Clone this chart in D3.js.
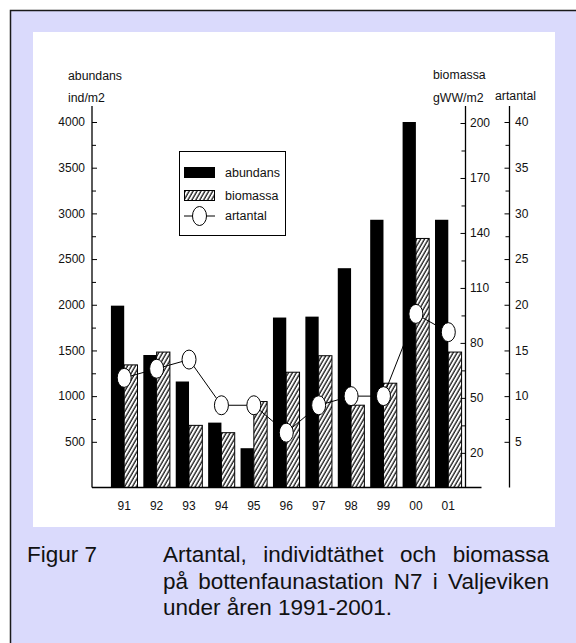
<!DOCTYPE html>
<html><head><meta charset="utf-8">
<script src="https://cdn.jsdelivr.net/npm/d3@7"></script>
<style>
body{margin:0;background:#fff}
svg{display:block}
text{font-family:"Liberation Sans",Arial,Helvetica,sans-serif;fill:#111}
</style>
</head><body>
<svg id="c" width="576" height="643"></svg>
<script>
// ---- data ----
const years = ["91","92","93","94","95","96","97","98","99","00","01"];
const abundans = [1990,1450,1160,710,430,1860,1870,2400,2930,4000,2930];
const biomassa = [68,75,35,31,48,64,73,46,58,137,75];
const artantal = [12,13,14,9,9,6,9,10,10,19,17];
const abTicks = [500,1000,1500,2000,2500,3000,3500,4000];
const abMinor = [750,1250,1750,2250,2750,3250,3750];
const bioTicks = [20,50,80,110,140,170,200];
const bioMinor = [35,65,95,125,155,185];
const artTicks = [5,10,15,20,25,30,35,40];
const artMinor = [7.5,12.5,17.5,22.5,27.5,32.5,37.5];
const legendLabels = ["abundans","biomassa","artantal"];
const captionLabel = "Figur 7";
const captionLines = ["Artantal, individtäthet och biomassa","på bottenfaunastation N7 i Valjeviken","under åren 1991-2001."];

const svg = d3.select("#c");
// frame + panels
svg.append("rect").attr("x",10.5).attr("y",10.5).attr("width",700).attr("height",700)
  .attr("fill","#dadafc").attr("stroke","#1a1a1a").attr("stroke-width",1.5);
svg.append("rect").attr("x",33).attr("y",32).attr("width",522).attr("height",495).attr("fill","#fff");

// hatch pattern
const defs = svg.append("defs");
const pat = defs.append("pattern").attr("id","hatch").attr("patternUnits","userSpaceOnUse")
  .attr("width",3.4).attr("height",10).attr("patternTransform","rotate(30)");
pat.append("rect").attr("width",3.4).attr("height",10).attr("fill","#fff");
pat.append("line").attr("x1",1).attr("x2",1).attr("y1",0).attr("y2",10).attr("stroke","#000").attr("stroke-width",1.2);

// scales
const baseY = 487.5, axisTop = 106;
const x = d3.scaleBand().domain(years).range([108,464.5]).paddingInner(0.18).paddingOuter(0.09);
const bw = x.bandwidth();
const yAb = d3.scaleLinear().domain([0,4000]).range([baseY,122]);
const yBio = d3.scaleLinear().domain([0,200]).range([489.5,123]);
const yArt = d3.scaleLinear().domain([0,40]).range([baseY,122]);
const leftX = 92, bioX = 465.5, artX = 509.5;

// bars
const g = svg.append("g");
g.selectAll("rect.ab").data(years).join("rect").attr("class","ab")
  .attr("x",d=>x(d)).attr("width",bw/2)
  .attr("y",(d,i)=>yAb(abundans[i])).attr("height",(d,i)=>baseY-yAb(abundans[i]))
  .attr("fill","#000");
g.selectAll("rect.bio").data(years).join("rect").attr("class","bio")
  .attr("x",d=>x(d)+bw/2).attr("width",bw/2)
  .attr("y",(d,i)=>yBio(biomassa[i])).attr("height",(d,i)=>baseY-yBio(biomassa[i]))
  .attr("fill","url(#hatch)").attr("stroke","#000").attr("stroke-width",1);

// line + circles
const pts = years.map((d,i)=>[x(d)+bw/2, yArt(artantal[i])]);
g.append("path").attr("d",d3.line()(pts)).attr("fill","none").attr("stroke","#000").attr("stroke-width",1);
g.selectAll("ellipse.art").data(pts).join("ellipse").attr("class","art")
  .attr("cx",d=>d[0]).attr("cy",d=>d[1]).attr("rx",7).attr("ry",9.5)
  .attr("fill","#fff").attr("stroke","#000").attr("stroke-width",1);

// axes
function styleAxis(sel){
  sel.select(".domain").remove();
  sel.selectAll("line").attr("stroke","#000").attr("stroke-width",1);
  sel.selectAll("text").attr("font-size",12).attr("fill","#111").attr("font-family","Liberation Sans, Arial, sans-serif");
}
const fmt = d3.format("d");
const axL = svg.append("g").attr("transform",`translate(${leftX},0)`)
  .call(d3.axisLeft(yAb).tickValues(abTicks).tickFormat(fmt).tickSizeInner(-5).tickSizeOuter(0).tickPadding(7));
styleAxis(axL);
const axLm = svg.append("g").attr("transform",`translate(${leftX},0)`)
  .call(d3.axisLeft(yAb).tickValues(abMinor).tickFormat("").tickSizeInner(-4).tickSizeOuter(0));
styleAxis(axLm);
const axB = svg.append("g").attr("transform",`translate(${bioX},0)`)
  .call(d3.axisRight(yBio).tickValues(bioTicks).tickFormat(fmt).tickSizeInner(-5).tickSizeOuter(0).tickPadding(4.5));
styleAxis(axB);
const axBm = svg.append("g").attr("transform",`translate(${bioX},0)`)
  .call(d3.axisRight(yBio).tickValues(bioMinor).tickFormat("").tickSizeInner(-4).tickSizeOuter(0));
styleAxis(axBm);
const axA = svg.append("g").attr("transform",`translate(${artX},0)`)
  .call(d3.axisRight(yArt).tickValues(artTicks).tickFormat(fmt).tickSizeInner(-5).tickSizeOuter(0).tickPadding(5.5));
styleAxis(axA);
const axAm = svg.append("g").attr("transform",`translate(${artX},0)`)
  .call(d3.axisRight(yArt).tickValues(artMinor).tickFormat("").tickSizeInner(-4).tickSizeOuter(0));
styleAxis(axAm);
const axX = svg.append("g").attr("transform",`translate(0,${baseY})`)
  .call(d3.axisBottom(x).tickSize(0).tickPadding(14));
styleAxis(axX);

// axis lines
[[leftX,axisTop,leftX,baseY],[bioX,axisTop,bioX,baseY],[artX,axisTop,artX,baseY],[leftX,baseY,481.5,baseY]]
  .forEach(l=>svg.append("line").attr("x1",l[0]).attr("y1",l[1]).attr("x2",l[2]).attr("y2",l[3])
    .attr("stroke","#000").attr("stroke-width",1.3));

// axis titles
const titles = [["abundans",68,80],["ind/m2",68,102],["biomassa",433,79],["gWW/m2",433,102],["artantal",495,100]];
titles.forEach(t=>svg.append("text").attr("x",t[1]).attr("y",t[2]).attr("font-size",12.3).text(t[0]));

// legend
const lg = svg.append("g");
lg.append("rect").attr("x",179.5).attr("y",151.5).attr("width",106).attr("height",84)
  .attr("fill","#fff").attr("stroke","#000").attr("stroke-width",1);
lg.append("rect").attr("x",184).attr("y",167).attr("width",31).attr("height",11).attr("fill","#000");
lg.append("rect").attr("x",184.5).attr("y",190.5).attr("width",30).attr("height",10)
  .attr("fill","url(#hatch)").attr("stroke","#000").attr("stroke-width",1);
lg.append("line").attr("x1",184).attr("x2",215).attr("y1",216).attr("y2",216).attr("stroke","#000").attr("stroke-width",1);
lg.append("ellipse").attr("cx",199.5).attr("cy",216).attr("rx",7).attr("ry",9.5)
  .attr("fill","#fff").attr("stroke","#000").attr("stroke-width",1);
legendLabels.forEach((t,i)=>lg.append("text").attr("x",225).attr("y",[177,200,220][i])
  .attr("font-size",12.5).text(t));

// caption
const capFont = 22.5;
svg.append("text").attr("x",27).attr("y",562).attr("font-size",capFont).text(captionLabel);
const capX0 = 163, capX1 = 549, capY = [562,588.5,615];
captionLines.forEach((line,li)=>{
  const words = line.split(" ");
  const nodes = words.map(w=>svg.append("text").attr("y",capY[li]).attr("font-size",capFont).text(w));
  const widths = nodes.map(n=>n.node().getComputedTextLength());
  const total = d3.sum(widths);
  let gap;
  if (li < captionLines.length-1) gap = (capX1-capX0-total)/(words.length-1);
  else gap = capFont*0.278;
  let cx = capX0;
  nodes.forEach((n,i)=>{ n.attr("x",cx); cx += widths[i]+gap; });
});
</script>
</body></html>
